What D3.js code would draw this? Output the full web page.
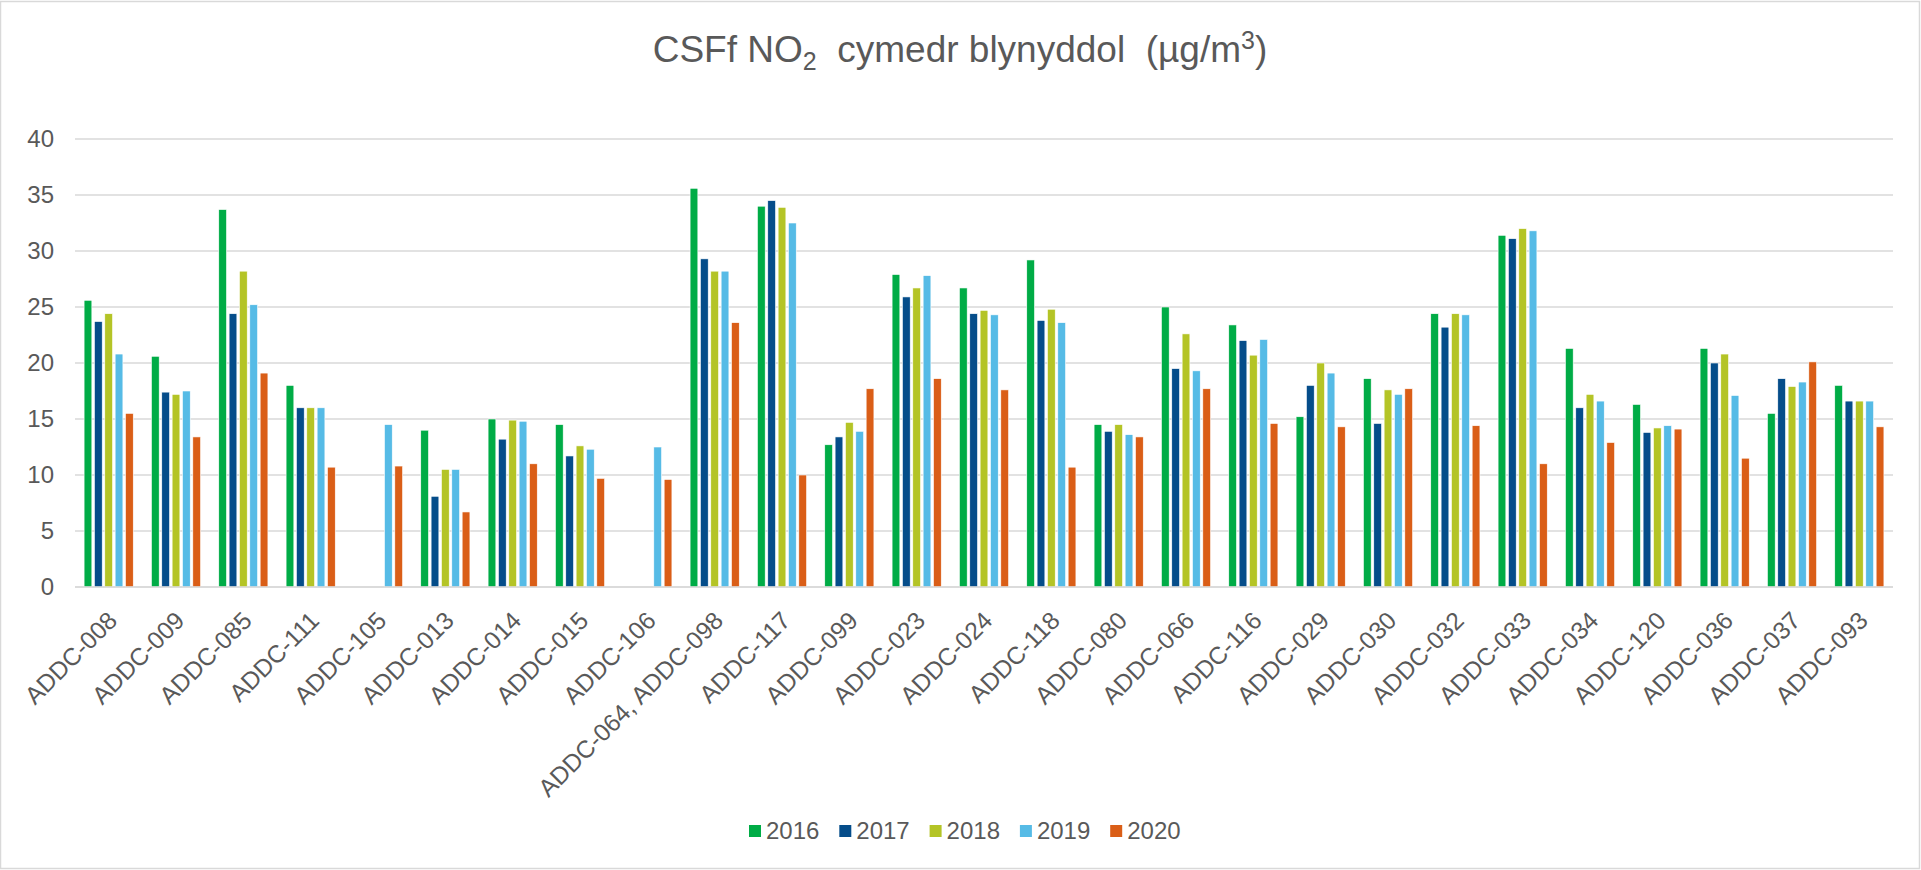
<!DOCTYPE html>
<html>
<head>
<meta charset="utf-8">
<script src="https://cdn.jsdelivr.net/npm/d3@7"></script>
<style>
  html, body { margin: 0; padding: 0; background: #fff; }
  svg { display: block; }
  text { font-family: Arial, "Liberation Sans", sans-serif; fill: #595959; }
</style>
</head>
<body>
<script>
const categories = ["ADDC-008","ADDC-009","ADDC-085","ADDC-111","ADDC-105","ADDC-013","ADDC-014","ADDC-015","ADDC-106","ADDC-064, ADDC-098","ADDC-117","ADDC-099","ADDC-023","ADDC-024","ADDC-118","ADDC-080","ADDC-066","ADDC-116","ADDC-029","ADDC-030","ADDC-032","ADDC-033","ADDC-034","ADDC-120","ADDC-036","ADDC-037","ADDC-093"];
const years = ["2016","2017","2018","2019","2020"];
const v2016 = [25.6,20.6,33.7,18.0,null,14.0,15.0,14.5,null,35.6,34.0,12.7,27.9,26.7,29.2,14.5,25.0,23.4,15.2,18.6,24.4,31.4,21.3,16.3,21.3,15.5,18.0];
const v2017 = [23.7,17.4,24.4,16.0,null,8.1,13.2,11.7,null,29.3,34.5,13.4,25.9,24.4,23.8,13.9,19.5,22.0,18.0,14.6,23.2,31.1,16.0,13.8,20.0,18.6,16.6];
const v2018 = [24.4,17.2,28.2,16.0,null,10.5,14.9,12.6,null,28.2,33.9,14.7,26.7,24.7,24.8,14.5,22.6,20.7,20.0,17.6,24.4,32.0,17.2,14.2,20.8,17.9,16.6];
const v2019 = [20.8,17.5,25.2,16.0,14.5,10.5,14.8,12.3,12.5,28.2,32.5,13.9,27.8,24.3,23.6,13.6,19.3,22.1,19.1,17.2,24.3,31.8,16.6,14.4,17.1,18.3,16.6];
const v2020 = [15.5,13.4,19.1,10.7,10.8,6.7,11.0,9.7,9.6,23.6,10.0,17.7,18.6,17.6,10.7,13.4,17.7,14.6,14.3,17.7,14.4,11.0,12.9,14.1,11.5,20.1,14.3];
const yTicks = [0,5,10,15,20,25,30,35,40];
const colors = ["#00AC46","#054D8A","#B4C426","#56BBE6","#DA5E17"];

const seriesValues = [v2016, v2017, v2018, v2019, v2020];
const W = 1921, H = 870;
const plot = {left: 75, right: 1893, top: 139, bottom: 587};

const svg = d3.select("body").append("svg").attr("width", W).attr("height", H);

// chart border
svg.append("rect").attr("x", 0.5).attr("y", 1.5).attr("width", W - 2).attr("height", H - 3)
  .attr("fill", "#fff").attr("stroke", "#D9D9D9").attr("stroke-width", 1.5);

const x0 = d3.scaleBand().domain(categories).range([plot.left, plot.right])
  .paddingInner(0.27).paddingOuter(0.135);
const x1 = d3.scaleBand().domain(years).range([0, x0.bandwidth()])
  .paddingInner(0.25).paddingOuter(0);
const y = d3.scaleLinear().domain([0, 40]).range([plot.bottom, plot.top]);
const color = d3.scaleOrdinal().domain(years).range(colors);

// gridlines
svg.append("g").selectAll("line").data(yTicks).join("line")
  .attr("x1", plot.left).attr("x2", plot.right)
  .attr("y1", d => y(d)).attr("y2", d => y(d))
  .attr("stroke", "#D9D9D9").attr("stroke-width", 1.5);

// y axis labels
const yAxis = d3.axisLeft(y).tickValues(yTicks).tickSize(0).tickPadding(0);
const ya = svg.append("g").attr("transform", `translate(${54},0)`).call(yAxis);
ya.select(".domain").remove();
ya.selectAll("text").attr("font-size", 24).attr("fill", "#595959")
  .style("font-family", "Arial, 'Liberation Sans', sans-serif");

// bars
const rows = categories.map((c, i) => ({cat: c, vals: years.map((yr, j) => ({year: yr, value: seriesValues[j][i]}))}));
const groups = svg.append("g").selectAll("g").data(rows).join("g")
  .attr("transform", d => `translate(${x0(d.cat)},0)`);
groups.selectAll("rect").data(d => d.vals.filter(v => v.value != null)).join("rect")
  .attr("x", d => x1(d.year))
  .attr("width", x1.bandwidth())
  .attr("y", d => y(d.value))
  .attr("height", d => y(0) - y(d.value))
  .attr("fill", d => color(d.year))
  .attr("stroke", "#fff").attr("stroke-width", 0.6);

// x axis line (baseline)
svg.append("line").attr("x1", plot.left).attr("x2", plot.right)
  .attr("y1", y(0)).attr("y2", y(0)).attr("stroke", "#D9D9D9").attr("stroke-width", 1.5);

// x labels
const xAxis = d3.axisBottom(x0).tickSize(0).tickPadding(0);
const xa = svg.append("g").attr("transform", `translate(0,${y(0)})`).call(xAxis);
xa.select(".domain").remove();
xa.selectAll("text")
  .attr("font-size", 24.5).attr("fill", "#595959")
  .style("font-family", "Arial, 'Liberation Sans', sans-serif")
  .attr("text-anchor", "end")
  .attr("dy", null).attr("y", null)
  .attr("transform", "translate(10,35) rotate(-45)");

// title
const title = svg.append("text").attr("x", 960).attr("y", 62)
  .attr("text-anchor", "middle").attr("font-size", 37);
title.append("tspan").text("CSFf NO");
title.append("tspan").text("2").attr("font-size", 25).attr("dy", 8);
title.append("tspan").text("\u00a0 cymedr blynyddol \u00a0(µg/m").attr("dy", -8);
title.append("tspan").text("3").attr("font-size", 25).attr("dy", -13);
title.append("tspan").text(")").attr("dy", 13);

// legend
const legendX = d3.scaleBand().domain(years).range([749, 749 + 90.3 * 5]);
const lg = svg.append("g").selectAll("g").data(years).join("g")
  .attr("transform", d => `translate(${legendX(d)},825)`);
lg.append("rect").attr("width", 12).attr("height", 12).attr("fill", d => color(d));
lg.append("text").attr("x", 17).attr("y", 6).attr("dy", "0.35em")
  .attr("font-size", 24).text(d => d);
</script>
</body>
</html>
